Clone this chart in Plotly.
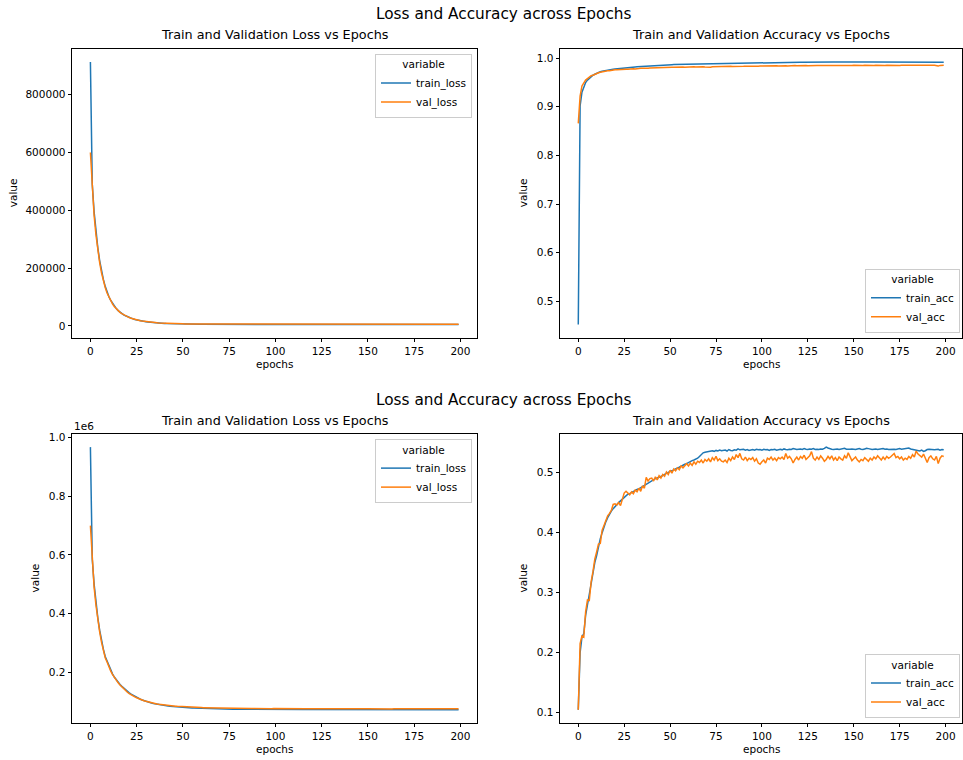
import plotly.graph_objects as go

# ---------------------------------------------------------------- data
epochs = list(range(200))

# run 1: loss
loss1_train = [
    913000, 490000, 395000, 325000, 270000, 226000, 190000, 161000, 137000, 117000,
    101000, 88000, 77000, 68000, 60000, 53000, 47500, 42500, 38500, 35000,
    31800, 29000, 26500, 24300, 22300, 20600, 19000, 17700, 16500, 15400,
    14400, 13500, 12700, 12000, 11300, 10700, 10200, 9700, 9300, 8900,
    8550, 8250, 7950, 7700, 7450, 7250, 7050, 6900, 6750, 6600,
    6480, 6370, 6270, 6180, 6100, 6020, 5950, 5890, 5830, 5780,
    5730, 5690, 5650, 5610, 5570, 5540, 5510, 5480, 5450, 5430,
    5400, 5380, 5360, 5340, 5320, 5300, 5280, 5265, 5250, 5235,
    5220, 5205, 5190, 5180, 5170, 5160, 5150, 5140, 5130, 5120,
    5110, 5100, 5090, 5085, 5080, 5070, 5060, 5055, 5050, 5040,
    5035, 5030, 5025, 5020, 5015, 5010, 5005, 5000, 4995, 4990,
    4986, 4982, 4978, 4974, 4970, 4966, 4962, 4958, 4955, 4952,
    4949, 4946, 4943, 4940, 4937, 4934, 4931, 4928, 4925, 4922,
    4920, 4917, 4914, 4912, 4909, 4907, 4904, 4902, 4899, 4897,
    4895, 4892, 4890, 4888, 4886, 4883, 4881, 4879, 4877, 4875,
    4873, 4871, 4869, 4867, 4865, 4863, 4861, 4859, 4857, 4855,
    4853, 4851, 4849, 4848, 4846, 4844, 4842, 4841, 4839, 4837,
    4836, 4834, 4832, 4831, 4829, 4828, 4826, 4825, 4823, 4822,
    4820, 4819, 4817, 4816, 4814, 4813, 4812, 4810, 4809, 4807,
    4806, 4805, 4803, 4802, 4801, 4799, 4798, 4797, 4796, 4794,
]
loss1_val = [
    600000, 470000, 382000, 315000, 262000, 219000, 184000, 156000, 133000, 114000,
    99000, 86000, 75500, 66500, 59000, 52500, 47000, 42200, 38200, 34800,
    31700, 29000, 26600, 24500, 22600, 20900, 19400, 18100, 16900, 15800,
    14800, 13900, 13100, 12400, 11800, 11200, 10700, 10200, 9800, 9450,
    9100, 8800, 8550, 8300, 8080, 7900, 7720, 7570, 7430, 7300,
    7190, 7090, 7000, 6920, 6850, 6790, 6740, 6690, 6650, 6610,
    6580, 6555, 6530, 6510, 6495, 6475, 6460, 6450, 6435, 6420,
    6410, 6400, 6392, 6380, 6372, 6365, 6355, 6350, 6342, 6335,
    6330, 6322, 6318, 6310, 6306, 6300, 6296, 6290, 6286, 6282,
    6278, 6275, 6270, 6268, 6262, 6260, 6256, 6254, 6250, 6248,
    6245, 6242, 6240, 6236, 6234, 6232, 6229, 6227, 6225, 6222,
    6220, 6218, 6216, 6213, 6212, 6210, 6207, 6206, 6204, 6202,
    6200, 6198, 6196, 6195, 6193, 6191, 6190, 6188, 6186, 6185,
    6183, 6182, 6180, 6179, 6177, 6176, 6174, 6173, 6172, 6170,
    6169, 6168, 6166, 6165, 6164, 6163, 6161, 6160, 6159, 6158,
    6157, 6156, 6154, 6153, 6152, 6151, 6150, 6149, 6148, 6147,
    6146, 6145, 6144, 6143, 6142, 6141, 6140, 6139, 6138, 6137,
    6136, 6135, 6135, 6134, 6133, 6132, 6131, 6130, 6130, 6129,
    6128, 6127, 6127, 6126, 6125, 6124, 6124, 6123, 6122, 6122,
    6121, 6120, 6120, 6119, 6118, 6118, 6117, 6116, 6116, 6115,
]

# run 1: accuracy
acc1_train = [
    0.452, 0.902, 0.930, 0.942, 0.950, 0.955, 0.959, 0.962, 0.965, 0.967,
    0.969, 0.971, 0.972, 0.973, 0.974, 0.975, 0.976, 0.9765, 0.977, 0.9775,
    0.978, 0.9785, 0.979, 0.9793, 0.9796, 0.980, 0.9803, 0.9806, 0.981, 0.9813,
    0.9816, 0.982, 0.9823, 0.9826, 0.983, 0.9833, 0.9835, 0.9838, 0.984, 0.9843,
    0.9845, 0.9848, 0.985, 0.9852, 0.9855, 0.9857, 0.9859, 0.986, 0.9862, 0.9864,
    0.9866, 0.9867, 0.9869, 0.987, 0.9872, 0.9873, 0.9875, 0.9876, 0.9877, 0.9878,
    0.988, 0.9881, 0.9882, 0.9883, 0.9884, 0.9885, 0.9886, 0.9887, 0.9888, 0.9889,
    0.989, 0.989, 0.9891, 0.9892, 0.9893, 0.9893, 0.9894, 0.9895, 0.9895, 0.9896,
    0.9897, 0.9897, 0.9898, 0.9898, 0.9899, 0.9899, 0.99, 0.99, 0.9901, 0.9901,
    0.9902, 0.9902, 0.9903, 0.991, 0.991, 0.9911, 0.991, 0.9911, 0.9912, 0.9912,
    0.9913, 0.9912, 0.9914, 0.9913, 0.9915, 0.9914, 0.9915, 0.9916, 0.9915, 0.9916,
    0.9916, 0.9917, 0.9916, 0.9917, 0.9917, 0.9918, 0.9917, 0.9918, 0.9918, 0.9917,
    0.9918, 0.9919, 0.9918, 0.9919, 0.9918, 0.9919, 0.9919, 0.9918, 0.9919, 0.9920,
    0.9919, 0.9920, 0.9919, 0.9920, 0.9919, 0.9920, 0.9920, 0.9919, 0.9920, 0.9921,
    0.9920, 0.9919, 0.9920, 0.9921, 0.9920, 0.9921, 0.9920, 0.9919, 0.9920, 0.9921,
    0.9920, 0.9921, 0.9922, 0.9921, 0.9920, 0.9921, 0.9922, 0.9921, 0.9920, 0.9921,
    0.9921, 0.9922, 0.9921, 0.9922, 0.9921, 0.9920, 0.9921, 0.9922, 0.9921, 0.9922,
    0.9922, 0.9921, 0.9922, 0.9923, 0.9922, 0.9921, 0.9922, 0.9923, 0.9922, 0.9921,
    0.9922, 0.9923, 0.9922, 0.9921, 0.9922, 0.9923, 0.9922, 0.9923, 0.9922, 0.9921,
    0.9922, 0.9923, 0.9922, 0.9921, 0.9922, 0.9921, 0.9920, 0.9921, 0.9920, 0.9919,
]
acc1_val = [
    0.866, 0.922, 0.943, 0.950, 0.955, 0.958, 0.962, 0.964, 0.965, 0.967,
    0.968, 0.970, 0.971, 0.972, 0.972, 0.973, 0.974, 0.974, 0.975, 0.975,
    0.976, 0.976, 0.9765, 0.976, 0.977, 0.977, 0.9775, 0.9773, 0.978, 0.978,
    0.9785, 0.978, 0.979, 0.9787, 0.9793, 0.979, 0.9795, 0.9798, 0.9795, 0.980,
    0.9802, 0.9806, 0.9803, 0.9808, 0.9805, 0.9810, 0.9807, 0.9812, 0.9809, 0.9813,
    0.9811, 0.9815, 0.9812, 0.9816, 0.9813, 0.9818, 0.9815, 0.9819, 0.9816, 0.9820,
    0.9818, 0.9821, 0.9819, 0.9823, 0.9820, 0.9824, 0.9821, 0.9825, 0.9822, 0.9818,
    0.9812, 0.9808, 0.9815, 0.9824, 0.9826, 0.9828, 0.9825, 0.9829, 0.9827, 0.9830,
    0.9828, 0.9831, 0.9829, 0.9832, 0.9830, 0.9833, 0.9831, 0.9834, 0.9832, 0.9835,
    0.9833, 0.9836, 0.9834, 0.9837, 0.9835, 0.9838, 0.9836, 0.9839, 0.9837, 0.9838,
    0.9840, 0.9837, 0.9841, 0.9838, 0.9842, 0.9839, 0.9843, 0.9840, 0.9844, 0.9841,
    0.9845, 0.9842, 0.9846, 0.9843, 0.9838, 0.9844, 0.9847, 0.9845, 0.9848, 0.9846,
    0.9849, 0.9846, 0.9848, 0.9845, 0.9849, 0.9847, 0.9850, 0.9846, 0.9849, 0.9847,
    0.9850, 0.9848, 0.9851, 0.9847, 0.9850, 0.9848, 0.9852, 0.9849, 0.9851, 0.9848,
    0.9851, 0.9849, 0.9852, 0.9848, 0.9851, 0.9849, 0.9853, 0.9850, 0.9846, 0.9851,
    0.9853, 0.9850, 0.9852, 0.9849, 0.9853, 0.9850, 0.9854, 0.9851, 0.9853, 0.9850,
    0.9854, 0.9851, 0.9853, 0.9850, 0.9854, 0.9852, 0.9855, 0.9851, 0.9854, 0.9852,
    0.9855, 0.9852, 0.9854, 0.9851, 0.9855, 0.9852, 0.9856, 0.9853, 0.9855, 0.9852,
    0.9856, 0.9853, 0.9855, 0.9852, 0.9856, 0.9853, 0.9857, 0.9854, 0.9856, 0.9853,
    0.9856, 0.9854, 0.9857, 0.9853, 0.9856, 0.9850, 0.9838, 0.9852, 0.9856, 0.9857,
]

# run 2: loss
loss2_train = [
    968000, 585000, 500000, 436000, 385000, 343000, 308000, 278000, 253000, 237000,
    220000, 206000, 193000, 182000, 173000, 165000, 157500, 151000, 145000, 139500,
    134000, 129000, 124500, 120500, 116500, 113000, 110000, 107000, 104500, 102000,
    99800, 97800, 96000, 94300, 92800, 91400, 90100, 88900, 87800, 86800,
    85900, 85000, 84200, 83400, 82700, 82000, 81400, 80800, 80300, 79800,
    79300, 78900, 78500, 78100, 77700, 77400, 77100, 76800, 76500, 76200,
    76000, 75700, 75500, 75300, 75100, 74900, 74700, 74500, 74400, 74200,
    74000, 73900, 73800, 73600, 73500, 73400, 73300, 73200, 73100, 73000,
    72900, 72850, 72800, 72750, 72700, 72650, 72600, 72560, 72520, 72480,
    72440, 72400, 72370, 72340, 72310, 72280, 72250, 72220, 72190, 72160,
    72130, 72100, 72080, 72060, 72040, 72020, 72000, 71980, 71960, 71940,
    71920, 71900, 71885, 71870, 71855, 71840, 71825, 71810, 71795, 71780,
    71770, 71760, 71750, 71740, 71730, 71720, 71710, 71700, 71690, 71680,
    71670, 71660, 71650, 71640, 71632, 71624, 71616, 71608, 71600, 71592,
    71585, 71578, 71571, 71564, 71557, 71550, 71543, 71536, 71530, 71524,
    71518, 71512, 71506, 71500, 71494, 71488, 71482, 71476, 71470, 71465,
    71460, 71455, 71450, 71445, 71440, 71435, 71430, 71425, 71420, 71416,
    71412, 71408, 71404, 71400, 71396, 71392, 71388, 71384, 71380, 71376,
    71372, 71368, 71364, 71360, 71357, 71354, 71351, 71348, 71345, 71342,
    71339, 71336, 71333, 71330, 71327, 71324, 71321, 71318, 71315, 71312,
]
loss2_val = [
    700000, 570000, 490000, 428000, 378000, 337000, 302000, 273000, 249000, 234000,
    217000, 203000, 191000, 180000, 171000, 163000, 156000, 149000, 143000, 138000,
    131000, 126500, 122000, 118500, 115000, 112000, 109000, 106500, 104000, 102000,
    100000, 98200, 96600, 95100, 93700, 92400, 91200, 90100, 89100, 88200,
    87300, 86500, 85800, 85100, 84500, 83900, 83400, 82900, 82400, 82000,
    81600, 81200, 80800, 80500, 80200, 79900, 79600, 79300, 79100, 78800,
    78600, 78400, 78200, 78000, 77800, 77600, 77400, 77300, 77100, 77000,
    76800, 76700, 76600, 76400, 76300, 76200, 76100, 76000, 75900, 75800,
    75700, 75900, 75500, 75600, 75400, 75700, 75300, 75400, 75500, 75200,
    75300, 75100, 75400, 75000, 75200, 74900, 75100, 75000, 74800, 75100,
    74900, 75200, 74800, 74900, 74700, 75000, 74800, 74600, 74900, 74700,
    74800, 74600, 74700, 74900, 74500, 74700, 74600, 74800, 74500, 74600,
    74700, 74500, 74600, 74400, 74700, 74500, 74600, 74800, 74400, 74500,
    74600, 74400, 74700, 74500, 74300, 74600, 74400, 74500, 74300, 74600,
    74400, 74500, 74300, 74400, 74600, 74300, 74400, 74200, 74500, 74300,
    74400, 74200, 74600, 74300, 74400, 74200, 74300, 74500, 74200, 74300,
    74400, 74200, 74300, 74100, 74400, 74200, 74300, 74200, 74400, 74100,
    74300, 74200, 74400, 74100, 74200, 74300, 74100, 74300, 74500, 74200,
    74200, 74100, 74300, 74200, 74000, 74300, 74100, 74200, 74300, 74100,
    74200, 74000, 74300, 74100, 74200, 74000, 74200, 74100, 74000, 74200,
]

# run 2: accuracy
acc2_train = [
    0.105, 0.200, 0.226, 0.232, 0.262, 0.280, 0.292, 0.312, 0.330, 0.350,
    0.362, 0.378, 0.390, 0.400, 0.410, 0.418, 0.425, 0.431, 0.436, 0.440,
    0.444, 0.447, 0.450, 0.453, 0.456, 0.458, 0.462, 0.464, 0.465, 0.467,
    0.468, 0.470, 0.472, 0.473, 0.475, 0.477, 0.479, 0.481, 0.483, 0.485,
    0.487, 0.488, 0.490, 0.491, 0.492, 0.494, 0.495, 0.497, 0.499, 0.500,
    0.502, 0.503, 0.505, 0.507, 0.508, 0.509, 0.511, 0.512, 0.514, 0.515,
    0.517, 0.518, 0.520, 0.521, 0.522, 0.524, 0.527, 0.531, 0.533, 0.534,
    0.5345, 0.5355, 0.535, 0.5365, 0.5355, 0.537, 0.536, 0.5375, 0.5365, 0.537,
    0.5375, 0.536, 0.5385, 0.537, 0.5365, 0.538, 0.5375, 0.5395, 0.538, 0.5385,
    0.539, 0.5375, 0.5385, 0.537, 0.538, 0.5385, 0.5375, 0.539, 0.538, 0.5385,
    0.5375, 0.539, 0.538, 0.5385, 0.537, 0.5385, 0.538, 0.539, 0.5375, 0.5385,
    0.539, 0.538, 0.5395, 0.5385, 0.538, 0.539, 0.5385, 0.540, 0.539, 0.5385,
    0.539, 0.5395, 0.5385, 0.540, 0.539, 0.5385, 0.5395, 0.539, 0.540, 0.5385,
    0.539, 0.5385, 0.5395, 0.539, 0.5405, 0.5425, 0.541, 0.5395, 0.539, 0.5385,
    0.539, 0.5395, 0.5385, 0.539, 0.5395, 0.5405, 0.539, 0.5385, 0.539, 0.5395,
    0.539, 0.5385, 0.5395, 0.540, 0.539, 0.5385, 0.5395, 0.5405, 0.540, 0.539,
    0.5385, 0.539, 0.5395, 0.5385, 0.539, 0.5395, 0.540, 0.539, 0.5395, 0.5385,
    0.539, 0.5395, 0.539, 0.5385, 0.5395, 0.540, 0.539, 0.5395, 0.540, 0.5405,
    0.541, 0.5395, 0.539, 0.5385, 0.5375, 0.5365, 0.536, 0.5375, 0.5355, 0.5365,
    0.5385, 0.539, 0.5385, 0.539, 0.538, 0.5385, 0.539, 0.5375, 0.5385, 0.538,
]
acc2_val = [
    0.105, 0.215, 0.228, 0.226, 0.268, 0.288, 0.287, 0.318, 0.335, 0.356,
    0.368, 0.381, 0.382, 0.404, 0.412, 0.421, 0.428, 0.432, 0.437, 0.447,
    0.448, 0.446, 0.450, 0.445, 0.458, 0.466, 0.469, 0.466, 0.463, 0.468,
    0.465, 0.471, 0.468, 0.474, 0.469, 0.478, 0.474, 0.492, 0.486, 0.490,
    0.491, 0.486, 0.493, 0.488, 0.495, 0.491, 0.497, 0.494, 0.501, 0.497,
    0.504, 0.499, 0.506, 0.503, 0.508, 0.505, 0.511, 0.508, 0.512, 0.515,
    0.511, 0.516, 0.512, 0.518, 0.514, 0.519, 0.517, 0.521, 0.516, 0.522,
    0.519, 0.523, 0.518, 0.525, 0.521, 0.527, 0.520, 0.523, 0.519, 0.518,
    0.521, 0.517, 0.524, 0.520, 0.526, 0.522, 0.530, 0.525, 0.532, 0.523,
    0.521, 0.526, 0.520, 0.524, 0.522, 0.525, 0.519, 0.523, 0.516, 0.514,
    0.518, 0.521, 0.516, 0.524, 0.522, 0.526, 0.521, 0.524, 0.520, 0.525,
    0.523, 0.526, 0.522, 0.532, 0.524, 0.527, 0.523, 0.516, 0.522, 0.526,
    0.521, 0.527, 0.524, 0.529, 0.522, 0.526, 0.528, 0.535, 0.524, 0.521,
    0.526, 0.522, 0.528, 0.524, 0.519, 0.522, 0.527, 0.523, 0.528, 0.521,
    0.525, 0.520, 0.526, 0.523, 0.521, 0.528, 0.524, 0.533, 0.526, 0.520,
    0.523, 0.526, 0.521, 0.518, 0.522, 0.520, 0.525, 0.522, 0.519, 0.524,
    0.521, 0.526, 0.523, 0.528, 0.525, 0.521, 0.526, 0.522, 0.527, 0.524,
    0.526, 0.529, 0.532, 0.525, 0.527, 0.523, 0.526, 0.521, 0.524, 0.522,
    0.527, 0.524, 0.530, 0.526, 0.536, 0.531, 0.528, 0.526, 0.531, 0.524,
    0.517, 0.525, 0.528, 0.523, 0.521, 0.527, 0.515, 0.524, 0.528, 0.527,
]

x_ticks = [0, 25, 50, 75, 100, 125, 150, 175, 200]
loss1_ticks = [0, 200000, 400000, 600000, 800000]
loss1_ticktext = ["0", "200000", "400000", "600000", "800000"]
acc1_ticks = [0.5, 0.6, 0.7, 0.8, 0.9, 1.0]
acc1_ticktext = ["0.5", "0.6", "0.7", "0.8", "0.9", "1.0"]
loss2_ticks = [200000, 400000, 600000, 800000, 1000000]
loss2_ticktext = ["0.2", "0.4", "0.6", "0.8", "1.0"]
acc2_ticks = [0.1, 0.2, 0.3, 0.4, 0.5]
acc2_ticktext = ["0.1", "0.2", "0.3", "0.4", "0.5"]

suptitle = "Loss and Accuracy across Epochs"
loss_title = "Train and Validation Loss vs Epochs"
acc_title = "Train and Validation Accuracy vs Epochs"

# ---------------------------------------------------------------- style
W, H = 963, 760
FONT = "DejaVu Sans"
TXT = "#000000"
BLUE, ORANGE = "#1f77b4", "#ff7f0e"
FS_TICK, FS_TITLE, FS_SUP = 10.5, 12.8, 15.3


def fx(px):
    return px / W


def fy(px):
    return 1 - px / H


def padded(a, b, frac=0.05):
    lo, hi = min(min(a), min(b)), max(max(a), max(b))
    pad = (hi - lo) * frac
    return [lo - pad, hi + pad]


# pixel boxes of the four panels (left, right, top, bottom)
panels = [
    dict(box=(72, 477, 46, 336), train=loss1_train, val=loss1_val,
         names=("train_loss", "val_loss"), ticks=loss1_ticks, ticktext=loss1_ticktext,
         title=loss_title, ylab_x=13),
    dict(box=(560, 962, 46, 336), train=acc1_train, val=acc1_val,
         names=("train_acc", "val_acc"), ticks=acc1_ticks, ticktext=acc1_ticktext,
         title=acc_title, ylab_x=523),
    dict(box=(72, 477, 432.7, 722.7), train=loss2_train, val=loss2_val,
         names=("train_loss", "val_loss"), ticks=loss2_ticks, ticktext=loss2_ticktext,
         title=loss_title, ylab_x=35),
    dict(box=(560, 962, 432.7, 722.7), train=acc2_train, val=acc2_val,
         names=("train_acc", "val_acc"), ticks=acc2_ticks, ticktext=acc2_ticktext,
         title=acc_title, ylab_x=523),
]

# legend placement: (x px, y px, xanchor, yanchor)
legend_pos = [
    (472, 51, "right", "top"),
    (960, 331, "right", "bottom"),
    (472, 437.7, "right", "top"),
    (960, 717.7, "right", "bottom"),
]

fig = go.Figure()
layout = dict(
    width=W, height=H,
    margin=dict(l=0, r=0, t=0, b=0),
    paper_bgcolor="white", plot_bgcolor="white",
    font=dict(family=FONT, size=FS_TICK, color=TXT),
    showlegend=True,
    hovermode=False,
)
annotations = []

for i, p in enumerate(panels):
    n = "" if i == 0 else str(i + 1)
    xa, ya = "x" + n, "y" + n
    leg = "legend" + n
    l, r, t, b = p["box"]

    for series, name, color in ((p["train"], p["names"][0], BLUE),
                                (p["val"], p["names"][1], ORANGE)):
        fig.add_trace(go.Scatter(
            x=epochs, y=series, name=name, mode="lines",
            line=dict(color=color, width=1.5),
            xaxis=xa, yaxis=ya, legend=leg,
        ))

    axis_common = dict(
        showline=True, linecolor="black", linewidth=0.8, mirror=True,
        ticks="outside", ticklen=3.5, tickwidth=0.8, tickcolor="black",
        showgrid=False, zeroline=False,
        tickfont=dict(family=FONT, size=FS_TICK, color=TXT),
    )
    layout["xaxis" + n] = dict(
        axis_common, domain=[fx(l), fx(r)], anchor=ya,
        range=[-9.95, 208.95], tickmode="array", tickvals=x_ticks,
    )
    layout["yaxis" + n] = dict(
        axis_common, domain=[fy(b), fy(t)], anchor=xa,
        range=padded(p["train"], p["val"]), tickmode="array",
        tickvals=p["ticks"], ticktext=p["ticktext"],
    )

    lx, ly, xan, yan = legend_pos[i]
    layout[leg] = dict(
        x=fx(lx), y=fy(ly), xanchor=xan, yanchor=yan,
        xref="paper", yref="paper",
        bgcolor="rgba(255,255,255,0.8)", bordercolor="#cccccc", borderwidth=1,
        font=dict(family=FONT, size=FS_TICK, color=TXT),
        title=dict(text="variable", side="top center",
                   font=dict(family=FONT, size=FS_TICK, color=TXT)),
        itemwidth=30, tracegroupgap=0,
    )

    cx = (l + r) / 2
    annotations.append(dict(text=p["title"], x=fx(cx), y=fy(t - 14),
                            xanchor="center", yanchor="middle",
                            font=dict(family=FONT, size=FS_TITLE, color=TXT)))
    annotations.append(dict(text="epochs", x=fx(cx), y=fy(b + 26.5),
                            xanchor="center", yanchor="middle",
                            font=dict(family=FONT, size=FS_TICK, color=TXT)))
    annotations.append(dict(text="value", x=fx(p["ylab_x"]), y=fy((t + b) / 2),
                            xanchor="center", yanchor="middle", textangle=-90,
                            font=dict(family=FONT, size=FS_TICK, color=TXT)))

# figure titles and the exponent label of the lower loss axis
for ty in (11.5, 398.5):
    annotations.append(dict(text=suptitle, x=fx(503), y=fy(ty),
                            xanchor="center", yanchor="middle",
                            font=dict(family=FONT, size=FS_SUP, color=TXT)))
annotations.append(dict(text="1e6", x=fx(72), y=fy(424.5),
                        xanchor="left", yanchor="middle",
                        font=dict(family=FONT, size=FS_TICK, color=TXT)))

for a in annotations:
    a.update(xref="paper", yref="paper", showarrow=False)
layout["annotations"] = annotations

fig.update_layout(**layout)
fig.write_html("out.html")
